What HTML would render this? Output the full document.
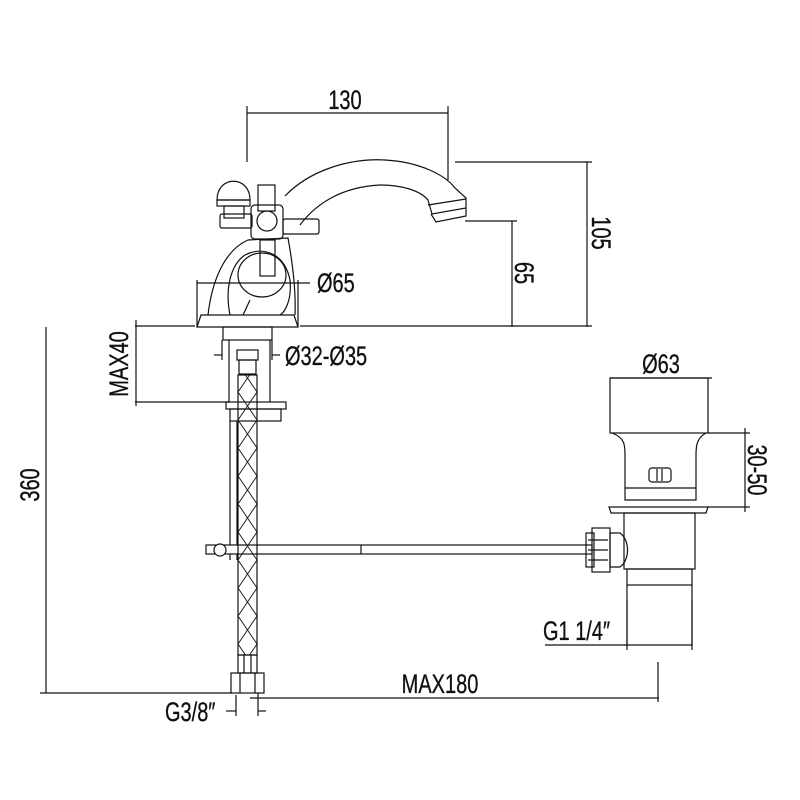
<!DOCTYPE html>
<html><head><meta charset="utf-8"><style>
html,body{margin:0;padding:0;background:#fff}
svg{display:block}
text{font-family:"Liberation Sans",sans-serif;fill:#111;stroke:#111;stroke-width:0.35}
</style></head><body>
<svg width="800" height="800" viewBox="0 0 800 800" xmlns="http://www.w3.org/2000/svg">
<defs>
<pattern id="braid" width="19" height="28" patternUnits="userSpaceOnUse" x="238" y="0">
<path d="M0 0 L19 28 M19 0 L0 28" stroke="#222" stroke-width="1" fill="none"/>
</pattern>
</defs>
<g stroke="#111" fill="none" stroke-width="1.2">
<line x1="247" y1="113" x2="448" y2="113"/>
<line x1="247" y1="106" x2="247" y2="162"/>
<line x1="448" y1="106" x2="448" y2="180"/>
<line x1="455" y1="162" x2="592" y2="162"/>
<line x1="587" y1="162" x2="587" y2="327"/>
<line x1="465" y1="221" x2="517" y2="221"/>
<line x1="512" y1="221" x2="512" y2="327"/>
<line x1="135" y1="326" x2="195" y2="326"/>
<line x1="300" y1="326" x2="592" y2="326"/>
<line x1="197" y1="283" x2="310" y2="283"/>
<line x1="197" y1="280" x2="197" y2="327"/>
<line x1="298" y1="280" x2="298" y2="327"/>
<line x1="136" y1="320" x2="136" y2="406"/>
<line x1="135" y1="402" x2="230" y2="402"/>
<line x1="46" y1="327" x2="46" y2="693"/>
<line x1="40" y1="693" x2="232" y2="693"/>
<line x1="250" y1="698" x2="659" y2="698"/>
<line x1="658" y1="662" x2="658" y2="702"/>
<line x1="236" y1="695" x2="236" y2="716"/><line x1="226" y1="711" x2="236" y2="711"/>
<line x1="258" y1="693" x2="258" y2="716"/><line x1="258" y1="711" x2="266" y2="711"/>
<line x1="222" y1="340" x2="222" y2="360"/><line x1="214" y1="355" x2="222" y2="355"/>
<line x1="272" y1="340" x2="272" y2="360"/><line x1="272" y1="355" x2="280" y2="355"/>
<line x1="610" y1="378" x2="712" y2="378"/>
<line x1="708" y1="433" x2="750" y2="433"/>
<line x1="708" y1="507" x2="750" y2="507"/>
<line x1="745" y1="428" x2="745" y2="512"/>
<line x1="545" y1="645" x2="692" y2="645"/>
<line x1="627" y1="600" x2="627" y2="650"/>
<line x1="692" y1="600" x2="692" y2="650"/>

<path d="M197 327 L298 327 L294 315 L201 315 Z"/>
<path d="M208 315 C212 280 225 250 248 240 L288 238 C292 260 296 290 295 315"/>
<path d="M230 315 C225 290 230 265 245 255 C265 245 285 255 290 280 C292 300 285 312 280 315"/>
<ellipse cx="262" cy="275" rx="24" ry="22"/>
<path d="M250 300 L243 315"/>
<path d="M217 200 C217 175 250 175 250 200 Z"/>
<rect x="217" y="200" width="33" height="6"/>
<rect x="224" y="206" width="20" height="12"/>
<rect x="258" y="185" width="17" height="26"/>
<rect x="220" y="214" width="32" height="14" rx="2"/>
<rect x="283" y="219" width="36" height="15" rx="2"/>
<rect x="251" y="205" width="32" height="34" rx="4"/>
<circle cx="267" cy="221" r="10"/>
<rect x="260" y="240" width="15" height="36"/>
<path d="M285 196 C310 170 350 158 385 160 C420 162 445 175 455 188 L466 198 L466 208 L432 214 L428 200 C420 190 400 185 380 185 C340 187 315 205 300 225"/>
<path d="M428 205 L466 199 M431 214 L436 222 L466 216 L466 208"/>
<rect x="223" y="327" width="49" height="13"/>
<line x1="229" y1="340" x2="229" y2="402"/>
<line x1="270" y1="340" x2="270" y2="402"/>
<rect x="237" y="350" width="21" height="10"/>
<rect x="239" y="360" width="17" height="14"/>
<rect x="226" y="402" width="60" height="7"/>
<rect x="230" y="409" width="51" height="12"/>
<line x1="230" y1="421" x2="230" y2="545"/>
<line x1="237" y1="421" x2="237" y2="545"/>
<line x1="230" y1="554" x2="230" y2="560"/><line x1="237" y1="554" x2="237" y2="560"/>
<rect x="238" y="375" width="19" height="280" fill="url(#braid)"/>
<rect x="238" y="655" width="19" height="18"/>
<line x1="244" y1="655" x2="244" y2="673"/><line x1="251" y1="655" x2="251" y2="673"/>
<rect x="231" y="673" width="33" height="20"/>
<line x1="240" y1="673" x2="240" y2="693"/><line x1="255" y1="673" x2="255" y2="693"/>
<rect x="206" y="545" width="386" height="9"/>
<circle cx="220" cy="550" r="6" fill="#fff"/>
<line x1="361" y1="545" x2="361" y2="554"/>
<rect x="610" y="378" width="98" height="55"/>
<path d="M612 433 C625 438 625 445 625 455 L625 500 L696 500 L696 455 C696 445 697 438 706 433"/>
<line x1="625" y1="488" x2="696" y2="488"/>
<rect x="649" y="468" width="22" height="14" rx="3"/>
<line x1="657" y1="469" x2="657" y2="481"/><line x1="662" y1="469" x2="662" y2="481"/>
<path d="M609 507 L708 507 L706 513 L611 513 Z"/>
<rect x="624" y="513" width="71" height="56"/>
<rect x="627" y="569" width="65" height="16"/>
<line x1="627" y1="585" x2="627" y2="645"/><line x1="692" y1="585" x2="692" y2="645"/>
<path d="M610 533 L620 533 C630 540 630 560 620 567 L610 567 Z"/>
<rect x="592" y="528" width="18" height="44"/>
<rect x="586" y="533" width="8" height="34"/>
<line x1="588" y1="540" x2="608" y2="540"/><line x1="588" y1="550" x2="608" y2="550"/><line x1="588" y1="560" x2="608" y2="560"/>
</g>
<g font-size="27">
<text x="345" y="109" text-anchor="middle" transform="translate(345 0) scale(0.74 1) translate(-345 0)">130</text>
<text x="317" y="292" transform="translate(317 0) scale(0.74 1) translate(-317 0)">Ø65</text>
<text x="285" y="365" transform="translate(285 0) scale(0.74 1) translate(-285 0)">Ø32-Ø35</text>
<text x="661" y="373" text-anchor="middle" transform="translate(661 0) scale(0.74 1) translate(-661 0)">Ø63</text>
<text x="440" y="693" text-anchor="middle" transform="translate(440 0) scale(0.74 1) translate(-440 0)">MAX180</text>
<text x="543" y="640" transform="translate(543 0) scale(0.74 1) translate(-543 0)">G1 1/4″</text>
<text x="165" y="721" transform="translate(165 0) scale(0.74 1) translate(-165 0)">G3/8″</text>
<g transform="translate(601 233) rotate(90) scale(0.74 1)"><text x="0" y="9" text-anchor="middle">105</text></g>
<g transform="translate(524 273) rotate(90) scale(0.74 1)"><text x="0" y="9" text-anchor="middle">65</text></g>
<g transform="translate(757 470) rotate(90) scale(0.74 1)"><text x="0" y="9" text-anchor="middle">30-50</text></g>
<g transform="translate(119 364) rotate(-90) scale(0.74 1)"><text x="0" y="9" text-anchor="middle">MAX40</text></g>
<g transform="translate(30 485) rotate(-90) scale(0.74 1)"><text x="0" y="9" text-anchor="middle">360</text></g>
</g>
</svg>
</body></html>
